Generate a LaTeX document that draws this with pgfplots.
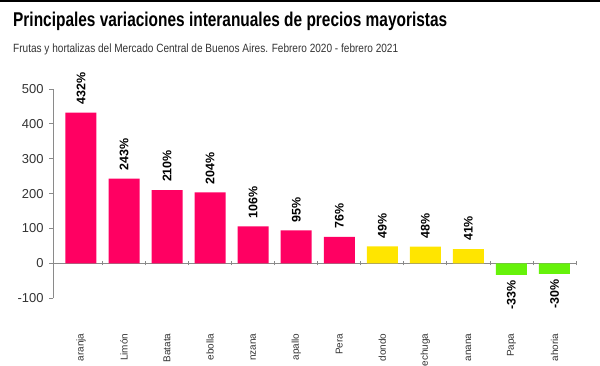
\documentclass[border=0pt]{standalone}
\usepackage{pgfplots}
\pgfplotsset{compat=1.18}
\usepackage{fontspec}
\setmainfont{Liberation Sans}
\definecolor{pinkbar}{HTML}{FF0062}
\definecolor{yellowbar}{HTML}{FFE500}
\definecolor{greenbar}{HTML}{66F20A}
\definecolor{axisgray}{HTML}{8A8A8A}
\definecolor{labgray}{HTML}{333333}
\begin{document}
\begin{tikzpicture}[x=1bp,y=1bp]
\path[use as bounding box, clip] (0,0) rectangle (600,365);
\fill[black] (0,363) rectangle (600,365);
\node[anchor=base west, inner sep=0pt] at (13,338.3)
  {\resizebox{434bp}{\height}{\fontsize{20}{24}\selectfont\bfseries Principales variaciones interanuales de precios mayoristas}};
\node[anchor=base west, inner sep=0pt, text=labgray] at (13,312.5)
  {\resizebox{385bp}{\height}{\fontsize{12}{14}\selectfont Frutas y hortalizas del Mercado Central de Buenos Aires. Febrero 2020 - febrero 2021}};
\begin{axis}[
  at={(53bp,66.7bp)}, anchor=south west,
  scale only axis, width=523bp, height=209.3bp,
  xmin=-0.65, xmax=11.5, ymin=-100, ymax=500,
  axis y line=left, axis x line=middle,
  axis line style={-, axisgray, line width=0.9pt},
  ytick={-100,0,100,200,300,400,500},
  yticklabel style={font=\fontsize{13}{15}\selectfont, text=labgray},
  yticklabel shift=2bp,
  /pgf/number format/assume math mode=true,
  y tick style={axisgray, line width=0.9pt},
  major tick length=4bp,
  tick align=outside,
  xtick={0,...,11},
  xticklabels={aranja,Limón,Batata,ebolla,nzana,apallo,Pera,dondo,echuga,anana,Papa,ahoria},
  x tick style={draw=none},
  minor xtick={0.5,1.5,...,11.5},
  minor x tick style={axisgray, line width=0.8pt, draw=axisgray, yshift=2bp},
  minor tick length=4bp,
  xticklabel style={rotate=90, anchor=east, inner sep=0pt, font=\fontsize{10}{12}\selectfont, text=labgray},
  xticklabel shift=66bp,
  clip=false,
]
\addplot[ybar, bar width=31bp, fill=pinkbar, draw=none,
  nodes near coords={\pgfmathprintnumber{\pgfplotspointmeta}\%},
  every node near coord/.append style={rotate=90, anchor=west, inner xsep=8bp, inner ysep=0pt, font=\fontsize{12.5}{14}\selectfont\bfseries, text=black}]
  coordinates {(0,432) (1,243) (2,210) (3,204) (4,106) (5,95) (6,76)};
\addplot[ybar, bar width=31bp, fill=yellowbar, draw=none,
  nodes near coords={\pgfmathprintnumber{\pgfplotspointmeta}\%},
  every node near coord/.append style={rotate=90, anchor=west, inner xsep=8bp, inner ysep=0pt, font=\fontsize{12.5}{14}\selectfont\bfseries, text=black}]
  coordinates {(7,49) (8,48) (9,41)};
\addplot[ybar, bar width=31bp, fill=greenbar, draw=none,
  nodes near coords={\pgfmathprintnumber{\pgfplotspointmeta}\%},
  every node near coord/.append style={rotate=90, anchor=east, inner xsep=5bp, inner ysep=0pt, font=\fontsize{12.5}{14}\selectfont\bfseries, text=black}]
  coordinates {(10,-33) (11,-30)};
\end{axis}
\end{tikzpicture}
\end{document}
